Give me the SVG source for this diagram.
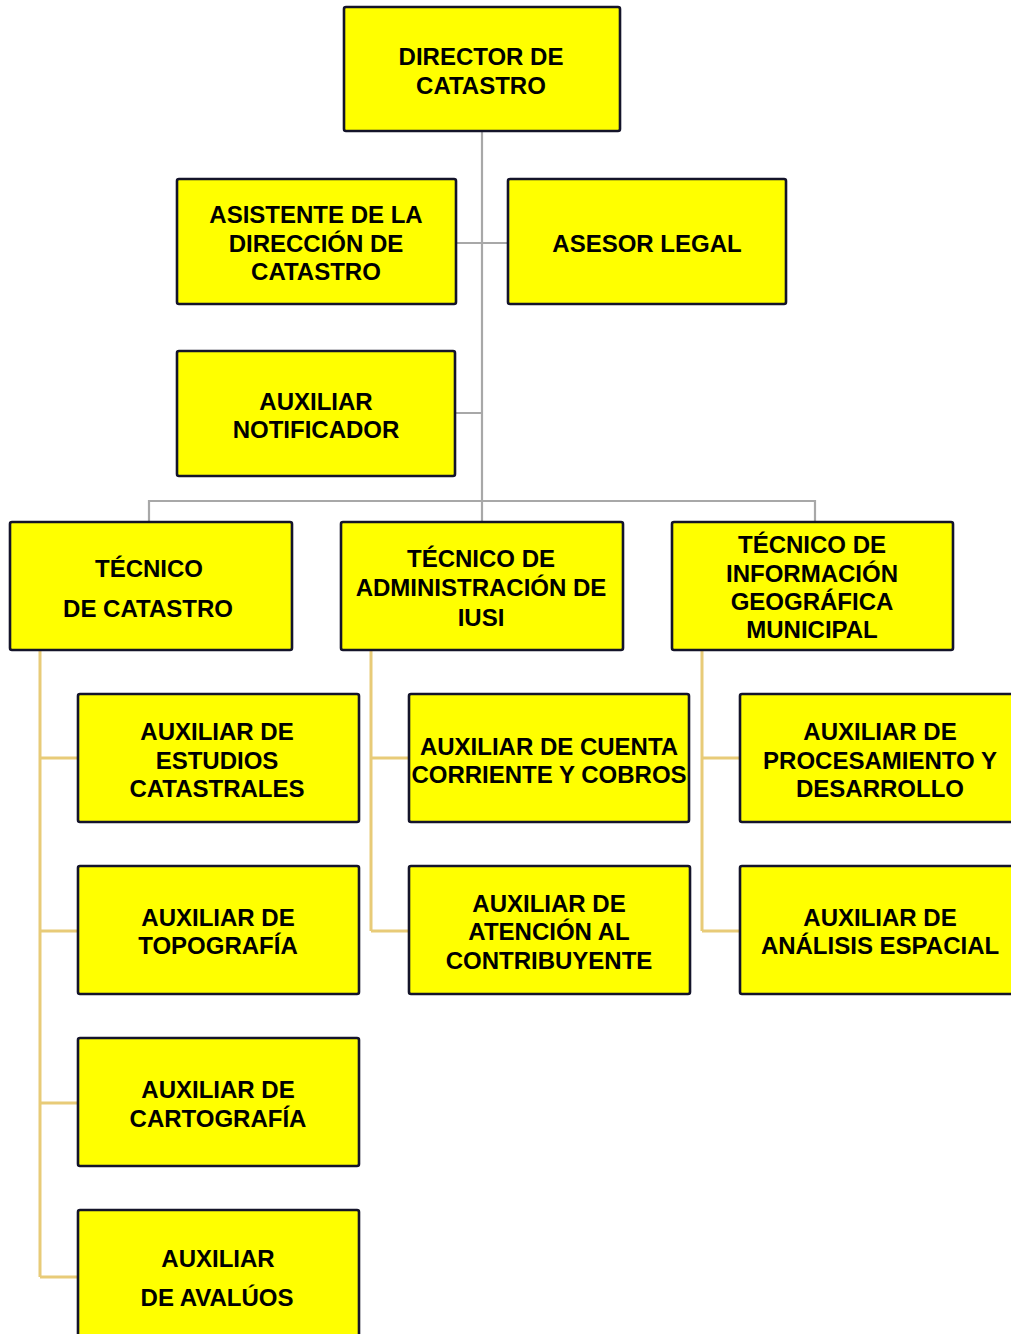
<svg xmlns="http://www.w3.org/2000/svg" width="1011" height="1334" viewBox="0 0 1011 1334">
<style>
.box{fill:#FFFF00;stroke:#14142a;stroke-width:2.6}
.t{font-family:"Liberation Sans",Arial,sans-serif;font-weight:bold;font-size:24px;fill:#000;text-anchor:middle}
.g{stroke:#A8A8A8;stroke-width:2.2;fill:none}
.y{stroke:#E8CB78;stroke-width:3;fill:none}
</style>
<rect width="1011" height="1334" fill="#fff"/>
<g id="connectors">
<path class="g" d="M482 131V522M456 243H508M455 413H482M149 522V501H815V522"/>
<path class="y" d="M40 650V1277M40 758H78M40 931H78M40 1103H78M40 1277H78"/>
<path class="y" d="M371 650V931M371 758H409M371 931H409"/>
<path class="y" d="M702 650V931M702 758H740M702 931H740"/>
</g>
<g id="director"><rect class="box" x="344" y="7" width="276" height="124" rx="2"/>
<text class="t" x="481" y="65">DIRECTOR DE</text><text class="t" x="481" y="94">CATASTRO</text></g>
<g id="asistente"><rect class="box" x="177" y="179" width="279" height="125" rx="2"/>
<text class="t" x="316" y="223">ASISTENTE DE LA</text><text class="t" x="316" y="252">DIRECCIÓN DE</text><text class="t" x="316" y="280">CATASTRO</text></g>
<g id="asesor"><rect class="box" x="508" y="179" width="278" height="125" rx="2"/>
<text class="t" x="647" y="252">ASESOR LEGAL</text></g>
<g id="notificador"><rect class="box" x="177" y="351" width="278" height="125" rx="2"/>
<text class="t" x="316" y="410">AUXILIAR</text><text class="t" x="316" y="438">NOTIFICADOR</text></g>
<g id="tecnico-catastro"><rect class="box" x="10" y="522" width="282" height="128" rx="2"/>
<text class="t" x="149" y="577">TÉCNICO</text><text class="t" x="148" y="617">DE CATASTRO</text></g>
<g id="tecnico-iusi"><rect class="box" x="341" y="522" width="282" height="128" rx="2"/>
<text class="t" x="481" y="567">TÉCNICO DE</text><text class="t" x="481" y="596">ADMINISTRACIÓN DE</text><text class="t" x="481" y="626">IUSI</text></g>
<g id="tecnico-info"><rect class="box" x="672" y="522" width="281" height="128" rx="2"/>
<text class="t" x="812" y="553">TÉCNICO DE</text><text class="t" x="812" y="582">INFORMACIÓN</text><text class="t" x="812" y="610">GEOGRÁFICA</text><text class="t" x="812" y="638">MUNICIPAL</text></g>
<g id="estudios"><rect class="box" x="78" y="694" width="281" height="128" rx="2"/>
<text class="t" x="217" y="740">AUXILIAR DE</text><text class="t" x="217" y="769">ESTUDIOS</text><text class="t" x="217" y="797">CATASTRALES</text></g>
<g id="topografia"><rect class="box" x="78" y="866" width="281" height="128" rx="2"/>
<text class="t" x="218" y="926">AUXILIAR DE</text><text class="t" x="218" y="954">TOPOGRAFÍA</text></g>
<g id="cartografia"><rect class="box" x="78" y="1038" width="281" height="128" rx="2"/>
<text class="t" x="218" y="1098">AUXILIAR DE</text><text class="t" x="218" y="1127">CARTOGRAFÍA</text></g>
<g id="avaluos"><rect class="box" x="78" y="1210" width="281" height="140" rx="2"/>
<text class="t" x="218" y="1267">AUXILIAR</text><text class="t" x="217" y="1306">DE AVALÚOS</text></g>
<g id="cuenta"><rect class="box" x="409" y="694" width="280" height="128" rx="2"/>
<text class="t" x="549" y="755">AUXILIAR DE CUENTA</text><text class="t" x="549" y="783">CORRIENTE Y COBROS</text></g>
<g id="atencion"><rect class="box" x="409" y="866" width="281" height="128" rx="2"/>
<text class="t" x="549" y="912">AUXILIAR DE</text><text class="t" x="549" y="940">ATENCIÓN AL</text><text class="t" x="549" y="969">CONTRIBUYENTE</text></g>
<g id="procesamiento"><rect class="box" x="740" y="694" width="282" height="128" rx="2"/>
<text class="t" x="880" y="740">AUXILIAR DE</text><text class="t" x="880" y="769">PROCESAMIENTO Y</text><text class="t" x="880" y="797">DESARROLLO</text></g>
<g id="analisis"><rect class="box" x="740" y="866" width="282" height="128" rx="2"/>
<text class="t" x="880" y="926">AUXILIAR DE</text><text class="t" x="880" y="954">ANÁLISIS ESPACIAL</text></g>
</svg>
